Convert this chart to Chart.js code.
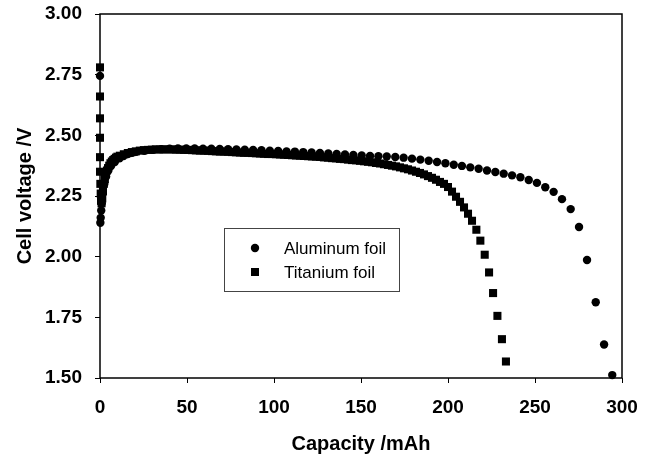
<!DOCTYPE html>
<html>
<head>
<meta charset="utf-8">
<title>Cell voltage vs capacity</title>
<script src="https://cdn.jsdelivr.net/npm/chart.js@4/dist/chart.umd.min.js"></script>
<style>
  html, body { margin: 0; padding: 0; background: #fff; }
  #wrap { width: 652px; height: 459px; }
</style>
</head>
<body>
<div id="wrap"><canvas id="capChart" width="652" height="459"></canvas></div>
<script>
// tick values
const xTicks = [0, 50, 100, 150, 200, 250, 300];
const yTicks = [1.50, 1.75, 2.00, 2.25, 2.50, 2.75, 3.00];

// Aluminum foil (circles)
const alCapacity = [0, 0.2, 0.4, 0.7, 1.0, 1.6, 2.5, 3.5, 4.8, 6.4, 8.5, 11.2, 13.5, 16.0, 18.5, 20.8,
  25.6, 30.4, 35.2, 40.0, 44.8, 49.6, 54.4, 59.2, 64.0, 68.8, 73.6, 78.4, 83.2, 88.0, 92.8, 97.6,
  102.4, 107.2, 112.0, 116.8, 121.6, 126.4, 131.2, 136.0, 140.8, 145.6, 150.4, 155.2, 160.0, 164.8,
  169.7, 174.5, 179.3, 184.1, 188.9, 193.7, 198.5, 203.3, 208.0, 212.8, 217.6, 222.4, 227.2, 232.0,
  236.8, 241.6, 246.4, 251.1, 255.9, 260.7, 265.5, 270.5, 275.3, 279.9, 284.9, 289.7, 294.4];
const alVoltage = [2.745, 2.14, 2.16, 2.19, 2.22, 2.26, 2.30, 2.33, 2.355, 2.375, 2.39, 2.405, 2.415, 2.423, 2.428, 2.432,
  2.436, 2.440, 2.443, 2.445, 2.446, 2.446, 2.446, 2.445, 2.445, 2.444, 2.443, 2.442, 2.441, 2.440, 2.439, 2.437,
  2.436, 2.434, 2.433, 2.431, 2.429, 2.427, 2.425, 2.423, 2.421, 2.419, 2.417, 2.415, 2.414, 2.413,
  2.411, 2.408, 2.404, 2.400, 2.395, 2.390, 2.385, 2.379, 2.374, 2.368, 2.362, 2.355, 2.349, 2.342,
  2.335, 2.327, 2.316, 2.304, 2.286, 2.267, 2.237, 2.196, 2.122, 1.986, 1.812, 1.638, 1.512];

// Titanium foil (squares)
const tiCapacity = [0, 0, 0, 0, 0, 0, 0.2, 0.4, 0.6, 0.9, 1.3, 1.7, 2.2, 2.8, 3.4, 4.0, 4.6, 5.3, 6.0, 6.8, 7.6, 8.4, 9.2, 10.0,
  11.4, 13.7, 16.0, 18.3, 20.6, 22.9, 25.2, 27.5, 29.8, 32.1, 34.4, 36.7, 39.0, 41.3, 43.6, 45.9, 48.2, 50.5,
  52.8, 55.1, 57.4, 59.7, 62.0, 64.3, 66.6, 68.9, 71.2, 73.5, 75.8, 78.1, 80.4, 82.7, 85.0, 87.3, 89.6, 91.9,
  94.2, 96.5, 98.8, 101.1, 103.4, 105.7, 108.0, 110.3, 112.6, 114.9, 117.2, 119.5, 121.8, 124.1, 126.4, 128.7,
  131.0, 133.3, 135.6, 137.9, 140.2, 142.5, 144.8, 147.1, 149.4, 151.7, 154.0, 156.3, 158.6, 160.9, 163.2,
  165.5, 167.8, 170.1, 172.4, 174.7, 177.0, 179.3, 181.6, 183.9, 186.2, 188.5, 190.8, 193.1, 195.4, 197.7,
  200.0, 202.3, 204.6, 206.9, 209.2, 211.5, 213.8, 216.3, 218.6, 221.1, 223.6, 225.9, 228.4, 231.0, 233.3];
const tiVoltage = [2.78, 2.66, 2.57, 2.49, 2.41, 2.35, 2.30, 2.26, 2.23, 2.22, 2.24, 2.27, 2.30, 2.32, 2.34, 2.355, 2.365, 2.375, 2.385, 2.392, 2.398, 2.403, 2.408, 2.412,
  2.416, 2.422, 2.427, 2.431, 2.434, 2.437, 2.439, 2.440, 2.441, 2.442, 2.442, 2.442, 2.442, 2.442, 2.441, 2.441, 2.440, 2.440,
  2.439, 2.438, 2.437, 2.437, 2.436, 2.435, 2.434, 2.433, 2.433, 2.432, 2.431, 2.430, 2.429, 2.428, 2.428, 2.427, 2.426, 2.425,
  2.424, 2.423, 2.423, 2.422, 2.421, 2.420, 2.419, 2.418, 2.417, 2.416, 2.415, 2.414, 2.413, 2.412, 2.411, 2.409,
  2.408, 2.406, 2.405, 2.403, 2.402, 2.400, 2.398, 2.397, 2.395, 2.393, 2.391, 2.389, 2.386, 2.384, 2.381,
  2.378, 2.375, 2.372, 2.368, 2.364, 2.360, 2.355, 2.350, 2.345, 2.339, 2.332, 2.325, 2.317, 2.308, 2.300,
  2.287, 2.268, 2.247, 2.226, 2.203, 2.177, 2.148, 2.111, 2.066, 2.008, 1.935, 1.850, 1.756, 1.660, 1.568];

function toPoints(xs, ys) {
  return xs.map((x, i) => ({ x: x, y: ys[i] }));
}

const FONT = "'Liberation Sans', Arial, sans-serif";

// box around the plot area (top/right too)
const frame = {
  id: 'frame',
  beforeDatasetsDraw(chart) {
    const a = chart.chartArea;
    const c = chart.ctx;
    c.save();
    c.strokeStyle = '#000';
    c.lineWidth = 1.5;
    c.strokeRect(a.left, a.top, a.right - a.left, a.bottom - a.top);
    c.restore();
  }
};

// legend box inside the plot
const boxLegend = {
  id: 'boxLegend',
  afterDatasetsDraw(chart) {
    const c = chart.ctx;
    c.save();
    c.fillStyle = '#fff';
    c.fillRect(224, 228, 175, 63);
    c.strokeStyle = '#444';
    c.lineWidth = 1;
    c.strokeRect(224.5, 228.5, 175, 63);
    c.fillStyle = '#000';
    c.font = '17px ' + FONT;
    c.textBaseline = 'middle';
    const rows = [248, 272];
    chart.data.datasets.forEach((ds, i) => {
      const y = rows[i];
      if (ds.pointStyle === 'circle') {
        c.beginPath();
        c.arc(255, y, 4.2, 0, Math.PI * 2);
        c.fill();
      } else {
        c.fillRect(251, y - 4, 8, 8);
      }
      c.fillText(ds.label, 284, y + 1);
    });
    c.restore();
  }
};

const ctx = document.getElementById('capChart').getContext('2d');

new Chart(ctx, {
  type: 'scatter',
  data: {
    datasets: [{
      label: 'Aluminum foil',
      data: toPoints(alCapacity, alVoltage),
      pointStyle: 'circle',
      pointRadius: 4.2,
      backgroundColor: '#000',
      borderColor: '#000',
      borderWidth: 0,
      clip: false
    }, {
      label: 'Titanium foil',
      data: toPoints(tiCapacity, tiVoltage),
      pointStyle: 'rect',
      pointRadius: 5.7,
      backgroundColor: '#000',
      borderColor: '#000',
      borderWidth: 0,
      clip: false
    }]
  },
  options: {
    responsive: false,
    animation: false,
    events: [],
    layout: { padding: { left: 0, right: 30, top: 14, bottom: 0 } },
    plugins: {
      legend: { display: false },
      tooltip: { enabled: false }
    },
    scales: {
      x: {
        type: 'linear',
        min: 0,
        max: 300,
        afterBuildTicks: (s) => { s.ticks = xTicks.map(v => ({ value: v })); },
        afterFit: (s) => { s.height = 81; s.paddingLeft = 0; s.paddingRight = 0; },
        border: { display: false },
        grid: { drawOnChartArea: false, drawTicks: true, tickLength: 5, color: '#000', lineWidth: 1 },
        ticks: {
          color: '#000',
          padding: 13,
          maxRotation: 0,
          font: { family: FONT, size: 19, weight: 'bold' },
          callback: (v) => String(v)
        },
        title: {
          display: true,
          text: 'Capacity /mAh',
          color: '#000',
          padding: { top: 0, bottom: 3 },
          font: { family: FONT, size: 20, weight: 'bold' }
        }
      },
      y: {
        type: 'linear',
        min: 1.5,
        max: 3.0,
        afterBuildTicks: (s) => { s.ticks = yTicks.map(v => ({ value: v })); },
        afterFit: (s) => { s.width = 100; s.paddingTop = 0; s.paddingBottom = 0; },
        border: { display: false },
        grid: { drawOnChartArea: false, drawTicks: true, tickLength: 5, color: '#000', lineWidth: 1 },
        ticks: {
          color: '#000',
          padding: 13,
          font: { family: FONT, size: 19, weight: 'bold' },
          callback: (v) => Number(v).toFixed(2)
        },
        title: {
          display: true,
          text: 'Cell voltage /V',
          color: '#000',
          padding: { top: 13, bottom: 0 },
          font: { family: FONT, size: 20, weight: 'bold' }
        }
      }
    }
  },
  plugins: [frame, boxLegend]
});
</script>
</body>
</html>
